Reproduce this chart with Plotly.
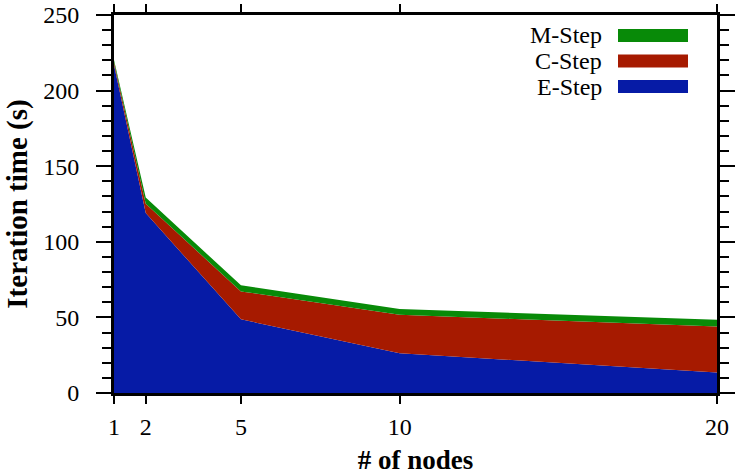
import plotly.graph_objects as go

nodes = [1, 2, 5, 10, 20]
e_step = [217, 119, 48.7, 26.3, 13.5]
c_step = [1.8, 6.1, 18.5, 25.4, 30.5]
m_step = [1.5, 4.2, 4.0, 3.8, 4.4]
x_ticks = [1, 2, 5, 10, 20]

series = [("E-Step", e_step, "#061BA6"), ("C-Step", c_step, "#A61A00"), ("M-Step", m_step, "#088A08")]

fig = go.Figure()
for name, vals, col in series:
    fig.add_trace(go.Scatter(x=nodes, y=vals, name=name, stackgroup="one", mode="lines",
                             line=dict(width=0, color=col), fillcolor=col, showlegend=False))

FONT = "Liberation Serif, Times New Roman, serif"
L, R, T, B = 114, 717, 15, 393
# legend drawn gnuplot-style (text right, swatch after)
leg_items = [("M-Step", "#088A08"), ("C-Step", "#A61A00"), ("E-Step", "#061BA6")]
for i, (name, col) in enumerate(leg_items):
    yc = 35.5 + i * 25.5
    fig.add_annotation(xref="paper", yref="paper", x=(604 - L) / (R - L), y=1 - (yc - T) / (B - T),
                       text=name, showarrow=False, xanchor="right", yanchor="middle",
                       font=dict(family=FONT, size=24, color="black"))
    fig.add_shape(type="rect", xref="paper", yref="paper",
                  x0=(618 - L) / (R - L), x1=(688 - L) / (R - L),
                  y0=1 - (yc + 6.5 - T) / (B - T), y1=1 - (yc - 6.5 - T) / (B - T),
                  fillcolor=col, line=dict(width=0))

fig.update_layout(
    width=735, height=475,
    margin=dict(l=L, r=735 - R, t=T, b=475 - B),
    plot_bgcolor="white", paper_bgcolor="white",
    font=dict(family=FONT, size=24, color="black"),
)
fig.update_xaxes(range=[1, 20], tickvals=x_ticks, ticktext=[str(v) for v in x_ticks],
                 ticks="outside", ticklen=8, tickwidth=2, tickcolor="black",
                 showline=True, linewidth=3, linecolor="black", mirror="ticks",
                 showgrid=False, zeroline=False, ticklabelstandoff=2, automargin=False,
                 title=dict(text="<b># of nodes</b>", font=dict(family=FONT, size=27), standoff=12))
fig.update_yaxes(range=[0, 250], dtick=50, ticks="outside", ticklen=15, tickwidth=2, tickcolor="black",
                 showline=True, linewidth=3, linecolor="black", mirror="ticks",
                 showgrid=False, zeroline=False, ticklabelstandoff=12, automargin=False,
                 minor=dict(dtick=10, ticks="outside", ticklen=9, tickwidth=2, tickcolor="black", showgrid=False),
                 title=dict(text="<b>Iteration time (s)</b>", font=dict(family=FONT, size=29), standoff=8))

fig.write_html("out.html", config={"displayModeBar": False},
               post_script="document.body.style.margin='0';document.body.style.padding='0';")
